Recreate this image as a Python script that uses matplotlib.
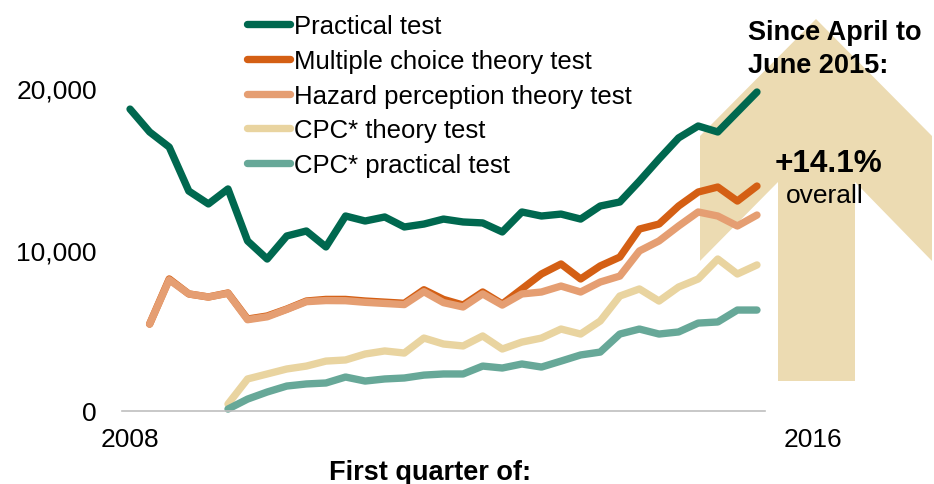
import numpy as np
import matplotlib
matplotlib.use("Agg")
import matplotlib.pyplot as plt
from matplotlib.patches import Polygon
from matplotlib.transforms import ScaledTranslation

plt.rcParams['font.family'] = ['Liberation Sans', 'DejaVu Sans']

nan = np.nan
# Quarterly index, Q1 2008 .. Q1 2016
quarters = list(range(33))
tick_pos = [0, 32]
tick_labels = ['2008', '2016']
y_ticks = [0, 10000, 20000]
y_tick_labels = ['0', '10,000', '20,000']

practical = [18720, 17300, 16360, 13630, 12830, 13760, 10530, 9410, 10840, 11150,
             10160, 12080, 11770, 12020, 11400, 11580, 11890, 11710, 11650, 11090,
             12330, 12080, 12200, 11890, 12700, 12950, 14250, 15620, 16930, 17670,
             17300, 18540, 19780]
multiple_choice = [nan, 5370, 8170, 7240, 7050, 7300, 5680, 5870, 6300, 6800,
                   6900, 6900, 6800, 6730, 6660, 7500, 6900, 6550, 7360, 6620,
                   7550, 8480, 9100, 8170, 8980, 9530, 11270, 11580, 12700, 13570,
                   13880, 13010, 13940]
hazard = [nan, 5370, 8120, 7240, 7050, 7280, 5640, 5820, 6280, 6760,
          6830, 6820, 6720, 6650, 6580, 7380, 6700, 6430, 7240, 6550,
          7240, 7360, 7730, 7360, 7980, 8350, 9910, 10530, 11460, 12330,
          12080, 11460, 12140]
cpc_theory = [nan, nan, nan, nan, nan, 400, 1960, 2270, 2580, 2760,
              3070, 3140, 3510, 3700, 3570, 4500, 4130, 4010, 4630, 3820,
              4250, 4500, 5060, 4750, 5560, 7110, 7550, 6800, 7670, 8170,
              9410, 8480, 9040]
cpc_practical = [nan, nan, nan, nan, nan, 90, 710, 1150, 1520, 1650,
                 1710, 2080, 1830, 1960, 2020, 2200, 2270, 2270, 2760, 2640,
                 2890, 2700, 3070, 3450, 3630, 4750, 5060, 4750, 4880, 5430,
                 5500, 6240, 6240]

series_names = ['Practical test', 'Multiple choice theory test',
                'Hazard perception theory test', 'CPC* theory test',
                'CPC* practical test']
series_values = [practical, multiple_choice, hazard, cpc_theory, cpc_practical]
colors = ['#00684F', '#D45F14', '#E59E72', '#E9D4A0', '#67A898']

W, H = 934, 485
fig = plt.figure(figsize=(W / 100, H / 100), dpi=100)
ax = fig.add_axes([122 / W, 0.1515, (765 - 122) / W, 0.7304])
ax.patch.set_visible(False)

# Big up arrow (figure pixel coordinates)
arrow_px = [(816, 20), (932, 137), (932, 262), (855, 183), (855, 382),
            (778, 382), (778, 183), (700, 262), (700, 137)]
arrow = Polygon([(x / W, 1 - y / H) for x, y in arrow_px], closed=True,
                facecolor='#ECDBB2', edgecolor='none', transform=fig.transFigure,
                clip_on=False, zorder=0.5)
ax.add_patch(arrow)

for name, vals, c in zip(series_names, series_values, colors):
    ax.plot(quarters, vals, color=c, lw=5.3, solid_capstyle='round',
            solid_joinstyle='round', label=name, zorder=2, clip_on=False)

ax.set_xlim(-0.41, 32.41)
ax.set_ylim(0, 22000)
ax.set_yticks(y_ticks)
ax.set_yticklabels(y_tick_labels)
ax.set_xticks(tick_pos)
ax.set_xticklabels(tick_labels)
ax.tick_params(axis='y', length=0, pad=18, labelsize=19)
ax.tick_params(axis='x', length=0, pad=12, labelsize=19)
for s in ['top', 'right', 'left']:
    ax.spines[s].set_visible(False)
ax.spines['bottom'].set_color('#BFBFBF')
ax.spines['bottom'].set_linewidth(1.2)

# shift the 2016 label to the right
lbl = ax.get_xticklabels()[1]
lbl.set_transform(lbl.get_transform() + ScaledTranslation(0.56, 0, fig.dpi_scale_trans))

leg = ax.legend(loc='upper left', bbox_to_anchor=(247 / W, 1 - 15 / H),
                bbox_transform=fig.transFigure, frameon=False, fontsize=18.5,
                handlelength=1.68, handletextpad=0.15, labelspacing=0.42,
                borderpad=0, borderaxespad=0)
for h in leg.get_lines():
    h.set_linewidth(5.3)
    h.set_solid_capstyle('round')

fig.text(748 / W, 1 - 40 / H, 'Since April to', fontsize=19.5, fontweight='bold',
         ha='left', va='baseline')
fig.text(748 / W, 1 - 73 / H, 'June 2015:', fontsize=19.5, fontweight='bold',
         ha='left', va='baseline')
fig.text(829 / W, 1 - 172 / H, '+14.1%', fontsize=22.7, fontweight='bold',
         ha='center', va='baseline')
fig.text(825 / W, 1 - 203 / H, 'overall', fontsize=19, ha='center', va='baseline')
fig.text(430 / W, 1 - 480 / H, 'First quarter of:', fontsize=19.5, fontweight='bold',
         ha='center', va='baseline')

fig.savefig('out.png', dpi=100)
